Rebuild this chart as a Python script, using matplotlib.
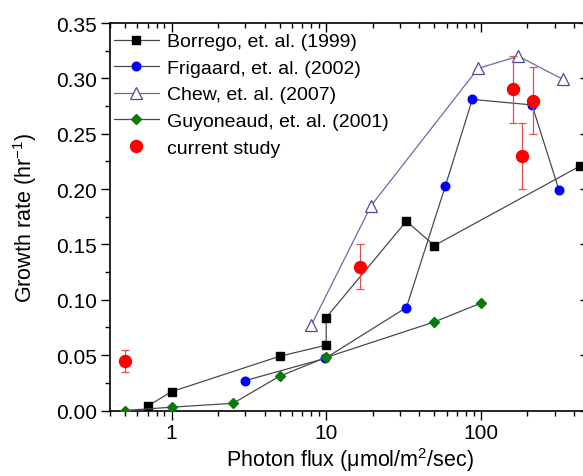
import matplotlib
matplotlib.use("Agg")
import matplotlib.pyplot as plt
from matplotlib.lines import Line2D
from matplotlib.ticker import LogLocator, MultipleLocator, FixedLocator, NullFormatter

plt.rcParams['font.family'] = ['Liberation Sans', 'DejaVu Sans']
plt.rcParams['mathtext.fontset'] = 'custom'
plt.rcParams['mathtext.rm'] = 'Liberation Sans'
plt.rcParams['mathtext.it'] = 'Liberation Sans:italic'

# Data
borrego_x = [0.7, 1.0, 5.0, 10.0, 10.0, 33.0, 50.0, 440.0]
borrego_y = [0.004, 0.017, 0.049, 0.059, 0.084, 0.171, 0.149, 0.221]

frigaard_x = [3.0, 9.8, 33.0, 59.0, 88.0, 214.0, 320.0]
frigaard_y = [0.027, 0.047, 0.093, 0.203, 0.281, 0.276, 0.199]

chew_x = [8.0, 19.5, 96.0, 175.0, 340.0]
chew_y = [0.077, 0.185, 0.309, 0.320, 0.299]

guy_x = [0.5, 1.0, 2.5, 5.0, 10.0, 50.0, 100.0]
guy_y = [0.000, 0.003, 0.0065, 0.031, 0.048, 0.080, 0.097]

cur_x = [0.5, 16.6, 162.0, 185.0, 218.0]
cur_y = [0.045, 0.130, 0.290, 0.230, 0.280]
cur_err = [0.010, 0.020, 0.030, 0.030, 0.030]

fig = plt.figure(figsize=(5.83, 4.77), dpi=100)
ax = fig.add_axes([110/583, 1-411.5/477, (589-110)/583, (411.5-24)/477])

line_col = '#4a4a4a'
h1, = ax.plot(borrego_x, borrego_y, color=line_col, lw=0.9, marker='s', ms=6,
              mfc='black', mec='black', label='Borrego, et. al. (1999)', zorder=3)
h2, = ax.plot(frigaard_x, frigaard_y, color=line_col, lw=0.9, marker='o', ms=6.2,
              mfc='#0000ff', mec='#0000ff', label='Frigaard, et. al. (2002)', zorder=3)
h3, = ax.plot(chew_x, chew_y, color='#6b6baa', lw=0.9, marker='^', ms=8,
              mfc='white', mec='#4a4a9a', mew=0.9, label='Chew, et. al. (2007)', zorder=3)
h4, = ax.plot(guy_x, guy_y, color=line_col, lw=0.9, marker='D', ms=5.5,
              mfc='#0a7a0a', mec='#0a7a0a', label='Guyoneaud, et. al. (2001)', zorder=3)
ax.errorbar(cur_x, cur_y, yerr=cur_err, fmt='o', ms=8.6, color='#ff0000',
            ecolor='#e05050', elinewidth=0.9, capsize=3, capthick=0.9, zorder=4)
h5 = Line2D([], [], ls='none', marker='o', ms=8.6, color='#ff0000', label='current study')

ax.set_xscale('log')
ax.set_xlim(0.4, 500)
ax.set_ylim(0, 0.35)

ax.xaxis.set_major_locator(FixedLocator([1, 10, 100]))
ax.set_xticklabels(['1', '10', '100'])
ax.xaxis.set_minor_locator(LogLocator(base=10, subs=range(2, 10), numticks=20))
ax.xaxis.set_minor_formatter(NullFormatter())
ax.yaxis.set_minor_locator(MultipleLocator(0.025))
ax.set_yticks([0, 0.05, 0.10, 0.15, 0.20, 0.25, 0.30, 0.35])
ax.set_yticklabels(['0.00', '0.05', '0.10', '0.15', '0.20', '0.25', '0.30', '0.35'])

ax.tick_params(axis='both', which='both', labelsize=15, width=1.0)
ax.tick_params(which='major', length=6.5)
ax.tick_params(which='minor', length=3.5)
ax.tick_params(axis='x', which='both', bottom=True, top=True, direction='out', pad=2.5)
ax.tick_params(axis='y', which='both', left=True, right=True, direction='out', pad=3)
# top/right ticks inward
for t in ax.xaxis.get_major_ticks() + ax.xaxis.get_minor_ticks():
    t.tick2line.set_marker(3)
for t in ax.yaxis.get_major_ticks() + ax.yaxis.get_minor_ticks():
    t.tick2line.set_marker(0)

for s in ax.spines.values():
    s.set_linewidth(1.2)

ax.set_xlabel('Photon flux (\u03bcmol/m$^2$/sec)', fontsize=15.5, labelpad=2)
ax.set_ylabel('Growth rate (hr$^{-1}$)', fontsize=15.5, labelpad=12)

ax.legend(handles=[h1, h2, h3, h4, h5], loc='upper left', frameon=False,
          fontsize=14, handlelength=2.3, borderaxespad=0.0, labelspacing=0.46,
          handletextpad=0.45, bbox_to_anchor=(-0.008, 0.995))

fig.savefig('out.png', dpi=100)
